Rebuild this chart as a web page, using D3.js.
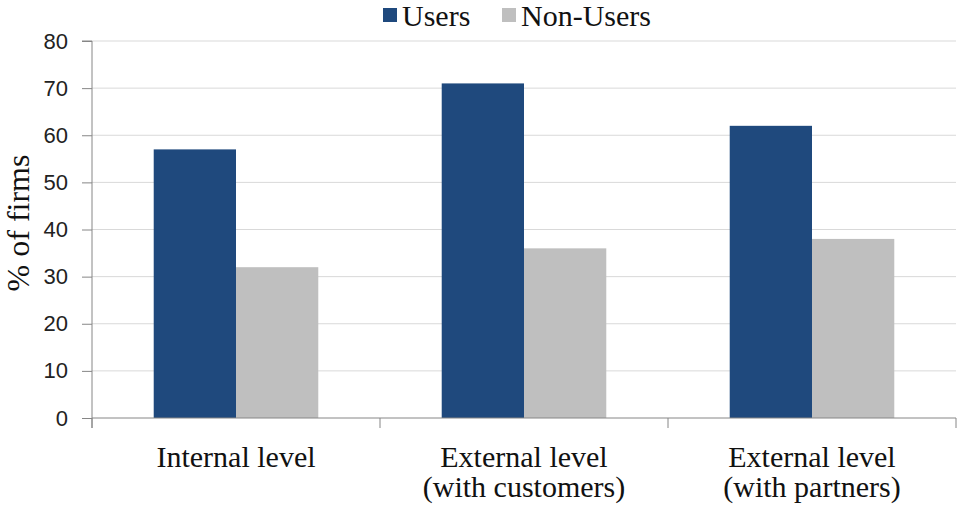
<!DOCTYPE html>
<html>
<head>
<meta charset="utf-8">
<script src="https://d3js.org/d3.v7.min.js"></script>
<style>
  body { margin: 0; background: #fff; }
  .grid line { stroke: #d9d9d9; }
</style>
</head>
<body>
<svg></svg>
<script>
// chart data
const categories = [["Internal level"], ["External level", "(with customers)"], ["External level", "(with partners)"]];
const seriesNames = ["Users", "Non-Users"];
const users = [57, 71, 62];
const nonUsers = [32, 36, 38];
const yTicks = [0, 10, 20, 30, 40, 50, 60, 70, 80];
const colors = ["#1f497d", "#bfbfbf"];

const width = 959, height = 511;
const margin = { top: 41, right: 3, bottom: 93, left: 92 };
const serif = "Liberation Serif, Times New Roman, serif";

const svg = d3.select("svg").attr("width", width).attr("height", height);

const x = d3.scaleBand()
    .domain(d3.range(categories.length))
    .range([margin.left, width - margin.right])
    .paddingInner(0).paddingOuter(0);
const inner = d3.scaleBand()
    .domain(seriesNames)
    .range([0, x.bandwidth()])
    .paddingOuter(0.75).paddingInner(0);
const y = d3.scaleLinear().domain([0, 80]).range([height - margin.bottom, margin.top]);

// gridlines
svg.append("g").attr("class", "grid")
    .selectAll("line").data(yTicks.slice(1)).join("line")
    .attr("x1", margin.left).attr("x2", width - margin.right)
    .attr("y1", d => y(d)).attr("y2", d => y(d));

// bars
const rows = categories.map((c, i) => [users[i], nonUsers[i]]);
const groups = svg.append("g").selectAll("g").data(rows).join("g")
    .attr("transform", (d, i) => `translate(${x(i)},0)`);
groups.selectAll("rect").data(d => d.map((v, j) => ({ v, j }))).join("rect")
    .attr("x", d => inner(seriesNames[d.j]))
    .attr("width", inner.bandwidth())
    .attr("y", d => y(d.v))
    .attr("height", d => y(0) - y(d.v))
    .attr("fill", d => colors[d.j]);

// y axis
const yAxis = svg.append("g")
    .attr("transform", `translate(${margin.left},0)`)
    .call(d3.axisLeft(y).tickValues(yTicks).tickSize(10).tickPadding(14));
yAxis.selectAll("path, line").attr("stroke", "#868686");
yAxis.select(".domain").attr("d", `M-10,${y(80)}H0V${y(0) + 10}`);
yAxis.selectAll("text")
    .attr("font-family", "Liberation Sans, Arial, sans-serif")
    .attr("font-size", 22).attr("fill", "#222");

// x axis
const xAxisY = y(0);
const xg = svg.append("g");
xg.append("line").attr("x1", margin.left).attr("x2", width - margin.right)
    .attr("y1", xAxisY).attr("y2", xAxisY).attr("stroke", "#868686");
xg.selectAll(".tk").data(d3.range(categories.length + 1)).join("line")
    .attr("x1", i => margin.left + i * x.step())
    .attr("x2", i => margin.left + i * x.step())
    .attr("y1", xAxisY).attr("y2", xAxisY + 10).attr("stroke", "#868686");
const labels = xg.selectAll("text").data(categories).join("text")
    .attr("text-anchor", "middle")
    .attr("font-family", serif)
    .attr("font-size", 30).attr("fill", "#111")
    .attr("x", (d, i) => x(i) + x.bandwidth() / 2)
    .attr("y", xAxisY + 49);
labels.selectAll("tspan").data(d => d).join("tspan")
    .attr("x", function () { return this.parentNode.getAttribute("x"); })
    .attr("dy", (d, k) => k === 0 ? 0 : 30)
    .text(d => d);

// y label
svg.append("text")
    .attr("transform", "translate(29,223) rotate(-90)")
    .attr("text-anchor", "middle")
    .attr("font-family", serif)
    .attr("font-size", 32).attr("fill", "#111")
    .text("% of firms");

// legend
const legend = svg.append("g").attr("font-family", serif)
    .attr("font-size", 30).attr("fill", "#111");
const legX = [383, 502];
seriesNames.forEach((s, i) => {
    legend.append("rect").attr("x", legX[i]).attr("y", 8).attr("width", 14).attr("height", 14).attr("fill", colors[i]);
    legend.append("text").attr("x", legX[i] + 19).attr("y", 26).text(s);
});
</script>
</body>
</html>
